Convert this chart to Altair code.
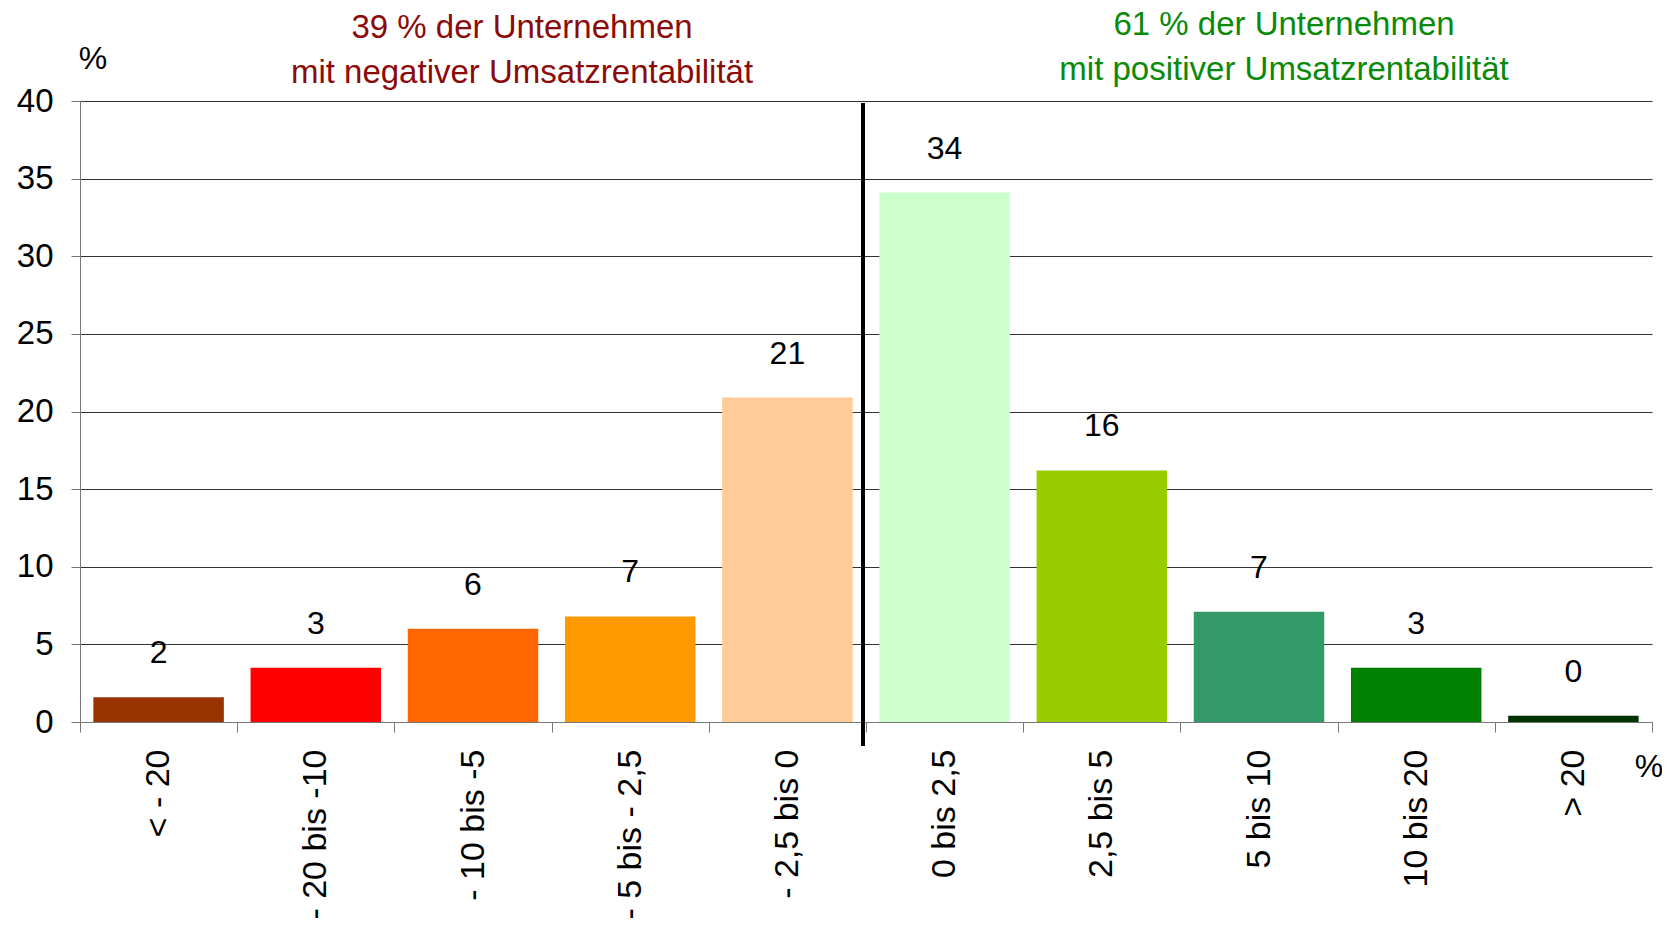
import altair as alt
import pandas as pd

categories = ["< - 20", "- 20  bis -10", "- 10 bis -5", "- 5 bis - 2,5", "- 2,5 bis 0",
              "0 bis 2,5", "2,5 bis 5", "5 bis 10", "10 bis 20", "> 20"]
values = [1.6, 3.5, 6.0, 6.8, 20.9, 34.1, 16.2, 7.1, 3.5, 0.4]
value_labels = ["2", "3", "6", "7", "21", "34", "16", "7", "3", "0"]
colors = ["#993300", "#FF0000", "#FF6600", "#FF9900", "#FFCC99",
          "#CCFFCC", "#99CC00", "#339966", "#008000", "#003300"]
y_ticks = [0, 5, 10, 15, 20, 25, 30, 35, 40]

neg_title = ["39 % der Unternehmen", "mit negativer Umsatzrentabilität"]
pos_title = ["61 % der Unternehmen", "mit positiver Umsatzrentabilität"]

FONT = "Liberation Sans"

df = pd.DataFrame({"cat": categories, "value": values, "label": value_labels})

x_enc = alt.X(
    "cat:N", sort=categories,
    scale=alt.Scale(paddingInner=0, paddingOuter=0),
    axis=alt.Axis(title=None, labelAngle=-90, labelAlign="right", labelBaseline="middle",
                  labelFontSize=34, labelFont=FONT, labelColor="black",
                  tickBand="extent", tickSize=10, labelPadding=17,
                  domainColor="#777777", tickColor="#777777", grid=False),
)
y_enc = alt.Y(
    "value:Q",
    scale=alt.Scale(domain=[0, 40], nice=False),
    axis=alt.Axis(title=None, values=y_ticks, tickSize=9, labelPadding=18,
                  labelFontSize=33, labelFont=FONT, labelColor="black",
                  grid=True, gridColor="#333333", gridWidth=1,
                  domainColor="#777777", tickColor="#777777"),
)

base = alt.Chart(df).encode(x=x_enc, y=y_enc)

bars = base.mark_bar(width=alt.RelativeBandSize(0.83)).encode(
    color=alt.Color("cat:N", sort=categories,
                    scale=alt.Scale(domain=categories, range=colors), legend=None)
)

texts = base.mark_text(dy=-44, fontSize=32, font=FONT, color="black",
                       baseline="middle").encode(text="label:N")

sep = alt.Chart(pd.DataFrame({"a": [0]})).mark_rule(strokeWidth=4, color="black").encode(
    x=alt.value(783), y=alt.value(2), y2=alt.value(645)
)


def note(txt, x, y, color, size=33):
    return alt.Chart(pd.DataFrame({"t": [txt]})).mark_text(
        fontSize=size, font=FONT, color=color, align="center", baseline="middle"
    ).encode(text="t:N", x=alt.value(x), y=alt.value(y))


layers = [
    bars, texts, sep,
    note(neg_title[0], 442, -73, "#8B0A0A"),
    note(neg_title[1], 442, -28, "#8B0A0A"),
    note(pos_title[0], 1204, -76, "#0A8A0A"),
    note(pos_title[1], 1204, -31, "#0A8A0A"),
    note("%", 13, -42, "black", 32),
    note("%", 1569, 666, "black", 32),
]

chart = alt.layer(*layers).properties(
    width=1572, height=621,
    autosize=alt.AutoSizeParams(type="none"),
    padding={"left": 72, "top": 93, "right": 10, "bottom": 196},
).configure_view(stroke=None)

chart.save("out.html", embed_options={"renderer": "svg", "actions": False})
